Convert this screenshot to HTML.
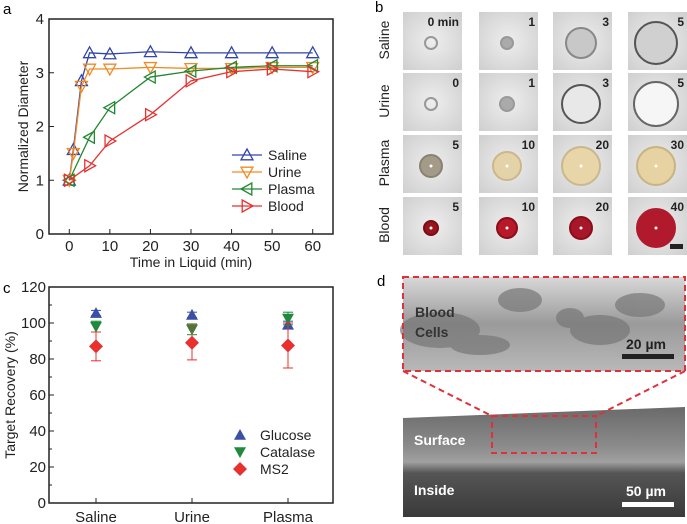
<!DOCTYPE html>
<html><head><meta charset="utf-8"><style>
html,body{margin:0;padding:0;background:#fff}
svg{display:block;font-family:"Liberation Sans",Arial,sans-serif}
</style></head><body>
<svg id="fig" width="687" height="524" viewBox="0 0 687 524" xmlns="http://www.w3.org/2000/svg">
<defs>
<radialGradient id="tile" cx="50%" cy="50%" r="70%"><stop offset="0" stop-color="#eeeeee"/><stop offset="1" stop-color="#cfcfcf"/></radialGradient>
<linearGradient id="semTop" x1="0" y1="0" x2="0" y2="1"><stop offset="0" stop-color="#d8d8d8"/><stop offset="0.5" stop-color="#9a9a9a"/><stop offset="1" stop-color="#b8b8b8"/></linearGradient>
<linearGradient id="semMain" x1="0" y1="0" x2="0" y2="1"><stop offset="0" stop-color="#6a6a6a"/><stop offset="0.35" stop-color="#8a8a8a"/><stop offset="0.5" stop-color="#a0a0a0"/><stop offset="0.6" stop-color="#555"/><stop offset="1" stop-color="#3a3a3a"/></linearGradient>
</defs>
<g id="panelA"></g>
<g id="panelC"></g>
<g id="panelB"></g>
<g id="panelD">
  <text x="377" y="286" font-size="15">d</text>
  <rect x="403" y="277" width="282" height="94" fill="url(#semTop)"/>
  <g fill="#777" opacity="0.7">
    <ellipse cx="440" cy="330" rx="40" ry="18"/><ellipse cx="520" cy="300" rx="22" ry="12"/><ellipse cx="570" cy="318" rx="14" ry="10"/><ellipse cx="600" cy="330" rx="30" ry="15"/><ellipse cx="640" cy="305" rx="25" ry="12"/><ellipse cx="480" cy="345" rx="30" ry="10"/>
  </g>
  <rect x="403" y="277" width="282" height="94" fill="none" stroke="#e0303a" stroke-width="2" stroke-dasharray="6,4"/>
  <text x="415" y="317" font-size="14" font-weight="bold" fill="#333">Blood</text>
  <text x="415" y="337" font-size="14" font-weight="bold" fill="#333">Cells</text>
  <text x="626" y="349" font-size="14" font-weight="bold" fill="#222">20 µm</text>
  <rect x="622" y="354" width="52" height="5" fill="#222"/>
  <polygon points="403,418 685,407 685,517 403,517" fill="url(#semMain)"/>
  <rect x="492" y="416" width="104" height="37" fill="none" stroke="#e0303a" stroke-width="2" stroke-dasharray="6,4"/>
  <line x1="403" y1="371" x2="492" y2="416" stroke="#e0303a" stroke-width="2" stroke-dasharray="6,4"/>
  <line x1="685" y1="371" x2="596" y2="416" stroke="#e0303a" stroke-width="2" stroke-dasharray="6,4"/>
  <text x="414" y="445" font-size="14" font-weight="bold" fill="#fff">Surface</text>
  <text x="414" y="495" font-size="14" font-weight="bold" fill="#fff">Inside</text>
  <text x="626" y="496" font-size="14" font-weight="bold" fill="#fff">50 µm</text>
  <rect x="622" y="502" width="52" height="5" fill="#fff"/>
</g>
</svg>
<script>
var NS="http://www.w3.org/2000/svg";
function mk(parent,tag,attrs,text){var e=document.createElementNS(NS,tag);for(var k in attrs)e.setAttribute(k,attrs[k]);if(text!==undefined)e.textContent=text;parent.appendChild(e);return e;}

// ---------- Panel A data ----------
var timesFast=[0,1,3,5,10,20,30,40,50,60];
var timesSlow=[0,5,10,20,30,40,50,60];
var salineVals=[1,1.57,2.85,3.37,3.35,3.39,3.37,3.37,3.37,3.37];
var urineVals=[1,1.5,2.75,3.07,3.07,3.1,3.08,3.08,3.1,3.1];
var plasmaVals=[1,1.8,2.35,2.92,3.03,3.1,3.13,3.13];
var bloodVals=[1,1.27,1.73,2.22,2.85,3.02,3.07,3.02];
var aXTicks=[0,10,20,30,40,50,60];
var aYTicks=[0,1,2,3,4];
var aSeriesNames=["Saline","Urine","Plasma","Blood"];

// ---------- Panel C data ----------
var cCategories=["Saline","Urine","Plasma"];
var glucoseVals=[105.5,104.5,99];
var glucoseErr=[1.5,1.5,2];
var catalaseVals=[98,96.5,102.5];
var catalaseErr=[3,3,3.5];
var ms2Vals=[87,89,87.5];
var ms2Err=[8,9.5,12.5];
var cYTicks=[0,20,40,60,80,100,120];

// ---------- Panel A ----------
(function(){
var g=document.getElementById('panelA');
var L=49,R=333,T=19,B=234;
function ax(v){return L+(v+5)/70*(R-L);}
function ay(v){return B-v/4*(B-T);}
mk(g,'text',{x:3,y:14,'font-size':15},'a');
var frame=mk(g,'rect',{x:L,y:T,width:R-L,height:B-T,fill:'none',stroke:'#222','stroke-width':1.5});


aXTicks.forEach(function(t){
  mk(g,'line',{x1:ax(t),x2:ax(t),y1:B,y2:B-5,stroke:'#222'});
  var tl=mk(g,'text',{x:ax(t),y:B+17,'font-size':15,'text-anchor':'middle',fill:'#222'},t);
  
  
});
aYTicks.forEach(function(t){
  mk(g,'line',{x1:L,x2:L+5,y1:ay(t),y2:ay(t),stroke:'#222'});
  var tl=mk(g,'text',{x:L-5,y:ay(t)+5,'font-size':15,'text-anchor':'end',fill:'#222'},t);
  
  
});
var xt=mk(g,'text',{x:(L+R)/2,y:B+33,'font-size':14,'text-anchor':'middle',fill:'#222'},'Time in Liquid (min)');


var yt=mk(g,'text',{x:0,y:0,'font-size':14,'text-anchor':'middle',fill:'#222',transform:'translate(28,'+((T+B)/2)+') rotate(-90)'},'Normalized Diameter');


function marker(p,x,y,dir,col){
  var s=6,pts;
  if(dir==='up')pts=[[x,y-s],[x+s,y+s*0.8],[x-s,y+s*0.8]];
  else if(dir==='down')pts=[[x,y+s],[x+s,y-s*0.8],[x-s,y-s*0.8]];
  else if(dir==='left')pts=[[x-s,y],[x+s*0.8,y-s],[x+s*0.8,y+s]];
  else pts=[[x+s,y],[x-s*0.8,y-s],[x-s*0.8,y+s]];
  var m=mk(p,'polygon',{points:pts.map(function(q){return q.join(',')}).join(' '),fill:'none',stroke:col,'stroke-width':1.3});
  return m;
}
var series=[[timesFast,salineVals,'#3344aa','up'],[timesFast,urineVals,'#f08a24','down'],[timesSlow,plasmaVals,'#228833','left'],[timesSlow,bloodVals,'#e8302e','right']];
series.forEach(function(s,i){
  var sg=mk(g,'g',{});
  
  
  var d=s[0].map(function(t,j){return (j?'L':'M')+ax(t)+','+ay(s[1][j]);}).join('');
  mk(sg,'path',{d:d,fill:'none',stroke:s[2],'stroke-width':1.3});
  s[0].forEach(function(t,j){
    var m=marker(sg,ax(t),ay(s[1][j]),s[3],s[2]);
    
    
  });
  var ly=155+i*17;
  var le=mk(g,'g',{});
  
  
  mk(le,'line',{x1:232,x2:262,y1:ly,y2:ly,stroke:s[2],'stroke-width':1.3});
  marker(le,247,ly,s[3],s[2]);
  mk(le,'text',{x:268,y:ly+5,'font-size':14,fill:'#222'},aSeriesNames[i]);
});
})();

// ---------- Panel C ----------
(function(){
var g=document.getElementById('panelC');
var L=49,R=333,T=287,B=503;
var cx=[96,192,288];
function ay(v){return B-v/120*(B-T);}
mk(g,'text',{x:3,y:293,'font-size':15},'c');
var frame=mk(g,'rect',{x:L,y:T,width:R-L,height:B-T,fill:'none',stroke:'#222','stroke-width':1.5});


cYTicks.forEach(function(t){
  mk(g,'line',{x1:L,x2:L+5,y1:ay(t),y2:ay(t),stroke:'#222'});
  if(t<120) mk(g,'line',{x1:L,x2:L+3,y1:ay(t+10),y2:ay(t+10),stroke:'#222'});
  var tl=mk(g,'text',{x:L-3,y:ay(t)+5,'font-size':15,'text-anchor':'end',fill:'#222'},t);
  
  
});
cCategories.forEach(function(c,i){
  mk(g,'line',{x1:cx[i],x2:cx[i],y1:B,y2:B-5,stroke:'#222'});
  var tl=mk(g,'text',{x:cx[i],y:B+19,'font-size':15,'text-anchor':'middle',fill:'#222'},c);
  
  
});
var yt=mk(g,'text',{x:0,y:0,'font-size':14,'text-anchor':'middle',fill:'#222',transform:'translate(15,'+((T+B)/2)+') rotate(-90)'},'Target Recovery (%)');


function shape(p,x,y,kind,col){
  var s=6,pts;
  if(kind==='up')pts=[[x,y-s],[x+s,y+s*0.8],[x-s,y+s*0.8]];
  else if(kind==='down')pts=[[x,y+s],[x+s,y-s*0.8],[x-s,y-s*0.8]];
  else pts=[[x,y-7],[x+7,y],[x,y+7],[x-7,y]];
  return mk(p,'polygon',{points:pts.map(function(q){return q.join(',')}).join(' '),fill:col});
}
var sets=[[glucoseVals,glucoseErr,'#3a4fa8','up','Glucose'],[catalaseVals,catalaseErr,'#1f8a3a','down','Catalase'],[ms2Vals,ms2Err,'#e8302e','diamond','MS2']];
sets.forEach(function(s,k){
  var sg=mk(g,'g',{});
  
  
  s[0].forEach(function(v,i){
    var x=cx[i];
    mk(sg,'line',{x1:x,x2:x,y1:ay(v-s[1][i]),y2:ay(v+s[1][i]),stroke:s[2],'stroke-width':1});
    mk(sg,'line',{x1:x-5,x2:x+5,y1:ay(v-s[1][i]),y2:ay(v-s[1][i]),stroke:s[2],'stroke-width':1});
    mk(sg,'line',{x1:x-5,x2:x+5,y1:ay(v+s[1][i]),y2:ay(v+s[1][i]),stroke:s[2],'stroke-width':1});
    var m=shape(sg,x,ay(v),s[3],s[2]);
    
    
  });
  var ly=435+k*17;
  var le=mk(g,'g',{});
  
  
  shape(le,240,ly,s[3],s[2]);
  mk(le,'text',{x:260,y:ly+5,'font-size':14,fill:'#222'},s[4]);
});
})();

// ---------- Panel B ----------
(function(){
var g=document.getElementById('panelB');
mk(g,'text',{x:375,y:12,'font-size':15},'b');
var colX=[403,479,553,628];
var rowY=[12,73,135,197];
var rowNames=["Saline","Urine","Plasma","Blood"];
var labels=[["0 min","1","3","5"],["0","1","3","5"],["5","10","20","30"],["5","10","20","40"]];
var radii=[[6,6,15,21],[6,7,19,22],[11,14,19,19],[7,10,11,19]];
var fills=[["none","#aaa","#c8c8c8","#d0d0d0"],["none","#aaa","#e8e8e8","#f6f6f6"],["#a39a88","#e4d3a8","#e8d6a8","#e6d2a2"],["#9a1420","#b81828","#a8162a","#b01a2c"]];
var strokes=[["#999","#999","#888","#555"],["#999","#999","#555","#666"],["#8a8270","#cbb78a","#c9b88e","#c8b482"],["#7a0c14","#8a0e1a","#8a0e1a","#b01a2c"]];
rowY.forEach(function(y,r){
  var rl=mk(g,'text',{x:0,y:0,'font-size':14,'text-anchor':'middle',fill:'#222',transform:'translate(389,'+(y+28)+') rotate(-90)'},rowNames[r]);
  
  
  colX.forEach(function(x,c){
    var tg=mk(g,'g',{});
    
    
    mk(tg,'rect',{x:x,y:y,width:59,height:58,fill:'url(#tile)'});
    mk(tg,'circle',{cx:x+28,cy:y+31,r:radii[r][c],fill:fills[r][c],stroke:strokes[r][c],'stroke-width':2});
    if(r>=2) mk(tg,'circle',{cx:x+28,cy:y+31,r:1.5,fill:'#fff'});
    mk(tg,'text',{x:x+56,y:y+14,'font-size':12,'font-weight':'bold','text-anchor':'end',fill:'#222'},labels[r][c]);
  });
});
var sb=mk(g,'rect',{x:670,y:244,width:13,height:5,fill:'#222'});


})();
</script>
</body></html>
